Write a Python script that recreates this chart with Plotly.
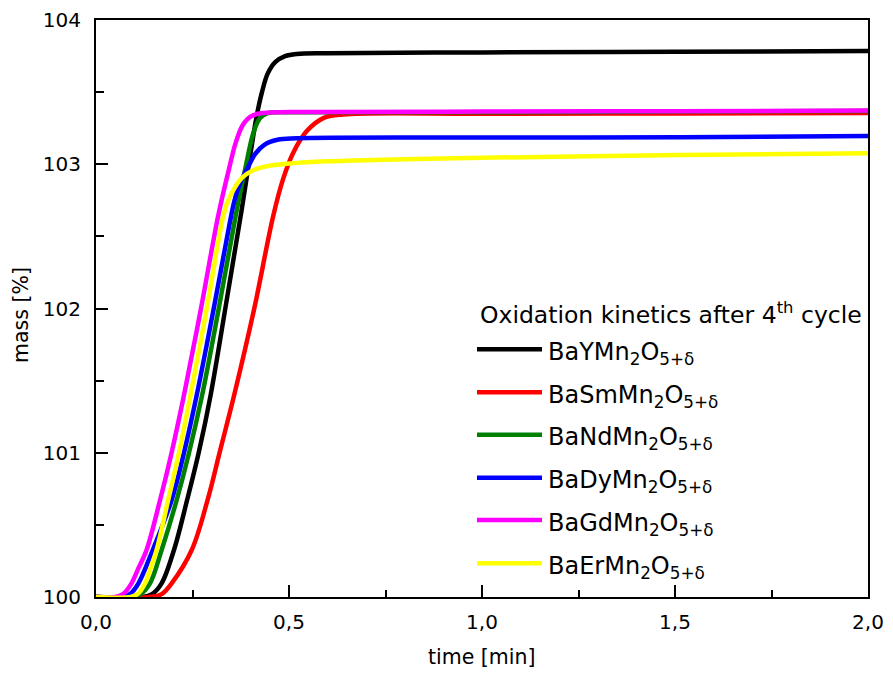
import plotly.graph_objects as go

# ---------------- data ----------------
names = ["BaYMn<sub>2</sub>O<sub>5+δ</sub>", "BaSmMn<sub>2</sub>O<sub>5+δ</sub>",
         "BaNdMn<sub>2</sub>O<sub>5+δ</sub>", "BaDyMn<sub>2</sub>O<sub>5+δ</sub>",
         "BaGdMn<sub>2</sub>O<sub>5+δ</sub>", "BaErMn<sub>2</sub>O<sub>5+δ</sub>"]
colors = ["#000000", "#FF0000", "#008000", "#0000FF", "#FF00FF", "#FFFF00"]

t_Y = [0, 0.12, 0.145, 0.17, 0.202, 0.236, 0.266, 0.297, 0.335, 0.375, 0.416, 0.43, 0.445, 0.465, 0.49, 0.52, 0.6, 1.0, 1.5, 2.0]
m_Y = [100, 100, 100.02, 100.095, 100.326, 100.672, 101.0, 101.4, 102.0, 102.645, 103.33, 103.5, 103.63, 103.71, 103.75, 103.765, 103.77, 103.775, 103.78, 103.785]

t_Sm = [0, 0.14, 0.17, 0.196, 0.248, 0.289, 0.322, 0.358, 0.41, 0.459, 0.485, 0.511, 0.546, 0.589, 0.64, 1.0, 1.5, 2.0]
m_Sm = [100, 100, 100.02, 100.095, 100.326, 100.672, 101.02, 101.4, 102.0, 102.64, 102.9, 103.08, 103.23, 103.32, 103.345, 103.35, 103.352, 103.355]

t_Nd = [0, 0.09, 0.115, 0.14, 0.17, 0.209, 0.241, 0.275, 0.318, 0.362, 0.386, 0.408, 0.425, 0.445, 0.5, 1.0, 1.5, 2.0]
m_Nd = [100, 100, 100.02, 100.095, 100.326, 100.672, 101.0, 101.4, 102.0, 102.645, 102.96, 103.22, 103.32, 103.355, 103.36, 103.36, 103.365, 103.37]

t_Dy = [0, 0.07, 0.09, 0.11, 0.147, 0.196, 0.228, 0.261, 0.305, 0.347, 0.358, 0.372, 0.394, 0.412, 0.436, 0.47, 0.52, 1.0, 1.513, 2.0]
m_Dy = [100, 100, 100.025, 100.095, 100.326, 100.672, 101.0, 101.4, 102.0, 102.6, 102.74, 102.86, 102.98, 103.07, 103.135, 103.17, 103.18, 103.185, 103.187, 103.196]

t_Gd = [0, 0.05, 0.07, 0.092, 0.11, 0.131, 0.166, 0.195, 0.228, 0.272, 0.317, 0.343, 0.362, 0.38, 0.40, 0.43, 0.6, 1.0, 1.5, 2.0]
m_Gd = [100, 100, 100.02, 100.095, 100.2, 100.326, 100.672, 100.99, 101.4, 102.0, 102.648, 102.95, 103.15, 103.27, 103.33, 103.355, 103.362, 103.365, 103.368, 103.372]

t_Er = [0, 0.09, 0.11, 0.127, 0.14, 0.157, 0.187, 0.215, 0.245, 0.287, 0.328, 0.341, 0.36, 0.38, 0.405, 0.44, 0.503, 0.6, 0.8, 1.0, 1.513, 2.0]
m_Er = [100, 100, 100.025, 100.095, 100.19, 100.326, 100.672, 101.0, 101.4, 102.0, 102.62, 102.74, 102.84, 102.91, 102.955, 102.985, 103.005, 103.02, 103.035, 103.045, 103.064, 103.076]

times = [t_Y, t_Sm, t_Nd, t_Dy, t_Gd, t_Er]
masses = [m_Y, m_Sm, m_Nd, m_Dy, m_Gd, m_Er]

x_ticks = [0, 0.5, 1.0, 1.5, 2.0]
y_ticks = [100, 101, 102, 103, 104]

legend_title = "Oxidation kinetics after 4<sup>th</sup> cycle"
x_title = "time [min]"
y_title = "mass [%]"

# ---------------- figure ----------------
# the page body adds an 8 px margin, so the figure is 8 px smaller and shifted
OFF = 8
W, H = 893 - OFF, 679 - OFF
L, R, T, B = 96 - OFF, 25, 20 - OFF, 82
PX0, PX1, PY0, PY1 = 96, 868, 20, 597   # plot area in window pixels
FONT = "DejaVu Sans"


def px_x(px):
    return (px - PX0) / (PX1 - PX0)


def px_y(py):
    return (PY1 - py) / (PY1 - PY0)


fig = go.Figure()
for t, m, n, c in zip(times, masses, names, colors):
    fig.add_trace(go.Scatter(x=t, y=m, mode="lines", name=n, showlegend=False,
                             line=dict(color=c, width=4.5, shape="spline", smoothing=1.0)))

axis_common = dict(showline=True, linecolor="black", linewidth=2, mirror=True,
                   ticks="inside", ticklen=12, tickwidth=2, tickcolor="black",
                   showgrid=False, zeroline=False, automargin=False,
                   tickfont=dict(family=FONT, size=20, color="black"))

fig.update_xaxes(range=[0, 2.0], tickvals=x_ticks, tickformat=".1f",
                 minor=dict(dtick=0.25, ticks="inside", ticklen=7, tickwidth=2, tickcolor="black"),
                 ticklabelstandoff=6, **axis_common)
fig.update_yaxes(range=[100, 104], tickvals=y_ticks,
                 minor=dict(dtick=0.5, ticks="inside", ticklen=8, tickwidth=2, tickcolor="black"),
                 ticklabelstandoff=9, **axis_common)

annotations = [
    dict(text=x_title, x=0.5, y=px_y(657), xref="paper", yref="paper",
         xanchor="center", yanchor="middle", showarrow=False,
         font=dict(family=FONT, size=20.5, color="black")),
    dict(text=y_title, x=px_x(21), y=px_y(315), xref="paper", yref="paper",
         xanchor="center", yanchor="middle", textangle=-90, showarrow=False,
         font=dict(family=FONT, size=20.5, color="black")),
    dict(text=legend_title, x=px_x(478), y=px_y(314), xref="paper", yref="paper",
         xanchor="left", yanchor="middle", showarrow=False,
         font=dict(family=FONT, size=23.5, color="black")),
]
shapes = []
leg_rows = [349.3, 392.3, 434.7, 477.7, 520, 563.3]
for n, c, ry in zip(names, colors, leg_rows):
    shapes.append(dict(type="line", xref="paper", yref="paper",
                       x0=px_x(477), x1=px_x(542), y0=px_y(ry), y1=px_y(ry),
                       line=dict(color=c, width=4.5)))
    annotations.append(dict(text=n, x=px_x(546), y=px_y(ry), xref="paper", yref="paper",
                            xanchor="left", yanchor="middle", yshift=-4, showarrow=False,
                            font=dict(family=FONT, size=24, color="black")))

fig.update_layout(width=W, height=H, margin=dict(l=L, r=R, t=T, b=B, autoexpand=False),
                  paper_bgcolor="white", plot_bgcolor="white",
                  separators=",.", showlegend=False,
                  annotations=annotations, shapes=shapes,
                  font=dict(family=FONT, color="black"))

fig.write_html("out.html")
